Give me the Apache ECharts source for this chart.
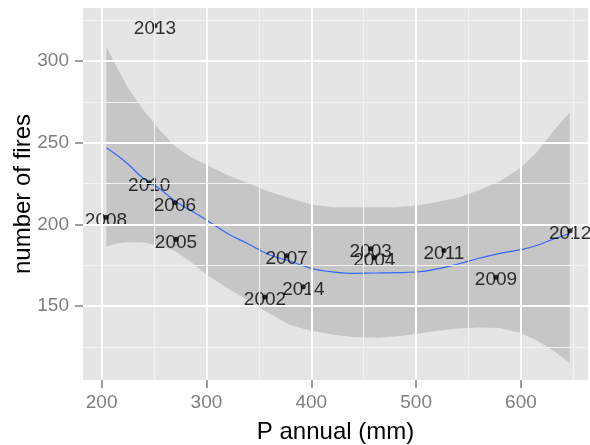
<!DOCTYPE html>
<html>
<head>
<meta charset="utf-8">
<script src="https://cdn.jsdelivr.net/npm/echarts@6/dist/echarts.min.js"></script>
<style>
  html, body { margin: 0; padding: 0; background: #ffffff; }
  #chart { width: 590px; height: 445px; }
</style>
</head>
<body>
<div id="chart"></div>
<script>
// Annual precipitation vs. number of fires, one labelled point per year
const years  = ['2002', '2003', '2004', '2005', '2006', '2007', '2008', '2009', '2010', '2011', '2012', '2013', '2014'];
const precip = [355.8, 456.7, 460.1, 270.9, 269.9, 376.5, 204.1, 576.2, 245.4, 526.6, 646.9, 250.9, 392.4];
const fires  = [155.5, 185.0, 179.6, 190.8, 213.2, 180.8, 204.3, 167.6, 225.5, 183.9, 196.0, 321.6, 161.8];

// Smoothed trend with its confidence band
const fitX      = [204.5, 215, 225, 240, 255, 270, 285, 300, 320, 340, 360, 380, 400, 420, 440, 460, 480, 500, 520, 540, 560, 580, 600, 615, 630, 646.5];
const fitY      = [246.9, 242.1, 236.9, 228.0, 221.9, 214.3, 208.5, 202.7, 194.4, 188.0, 181.4, 177.4, 173.0, 170.9, 170.0, 170.2, 170.4, 170.8, 172.7, 175.7, 179.2, 182.2, 184.5, 187.0, 190.7, 194.4];
const bandUpper = [308.5, 295.6, 283.6, 269.8, 258.0, 247.8, 241.2, 236.4, 230.2, 225.1, 220.0, 215.9, 212.1, 210.4, 210.4, 210.4, 210.4, 211.3, 213.7, 216.2, 220.8, 226.4, 234.7, 243.9, 256.3, 268.6];
const bandLower = [186.3, 188.4, 189.0, 188.8, 187.0, 183.7, 177.1, 169.2, 160.9, 153.2, 145.4, 138.4, 134.9, 132.5, 131.0, 130.6, 131.3, 132.9, 134.9, 136.2, 136.9, 136.5, 133.5, 128.9, 123.0, 115.3];

// Axis breaks
const xTicks = [200, 300, 400, 500, 600];
const xMinor = [250, 350, 450, 550, 650];
const yTicks = [150, 200, 250, 300];
const yMinor = [125, 175, 225, 275, 325];

const FONT = '"Liberation Sans", Arial, sans-serif';
const GREY = '#7F7F7F';

const chart = echarts.init(document.getElementById('chart'), null, { renderer: 'canvas' });

const minorStyle = { color: '#F2F2F2', width: 1, type: 'solid' };
const majorStyle = { color: '#FFFFFF', width: 2, type: 'solid' };
const gridLines = [].concat(
  xMinor.map(v => ({ xAxis: v, lineStyle: minorStyle })),
  yMinor.map(v => ({ yAxis: v, lineStyle: minorStyle })),
  xTicks.map(v => ({ xAxis: v, lineStyle: majorStyle })),
  yTicks.map(v => ({ yAxis: v, lineStyle: majorStyle }))
);

const bandData = fitX.map((x, i) => [x, bandLower[i], bandUpper[i]]);

chart.setOption({
  animation: false,
  backgroundColor: '#ffffff',
  grid: {
    left: 83, right: 2, top: 8, bottom: 65,
    show: true, backgroundColor: '#E5E5E5', borderWidth: 0,
    containLabel: false, outerBoundsMode: 'none'
  },
  xAxis: {
    type: 'value', min: 182.2, max: 664,
    axisLine: { show: false },
    axisTick: { show: true, length: 8, customValues: xTicks, lineStyle: { color: GREY, width: 1.5 } },
    axisLabel: { customValues: xTicks, color: GREY, fontSize: 19, fontFamily: FONT, margin: 13 },
    splitLine: { show: false },
    name: 'P annual (mm)', nameLocation: 'middle', nameGap: 40, nameMoveOverlap: false,
    nameTextStyle: { fontSize: 24, color: '#000000', fontFamily: FONT }
  },
  yAxis: {
    type: 'value', min: 104.7, max: 332.4,
    axisLine: { show: false },
    axisTick: { show: true, length: 8, customValues: yTicks, lineStyle: { color: GREY, width: 1.5 } },
    axisLabel: { customValues: yTicks, color: GREY, fontSize: 19, fontFamily: FONT, margin: 14 },
    splitLine: { show: false },
    name: 'number of fires', nameLocation: 'middle', nameGap: 48, nameRotate: 90, nameMoveOverlap: false,
    nameTextStyle: { fontSize: 24, color: '#000000', fontFamily: FONT }
  },
  series: [
    {
      // panel grid lines
      type: 'line', data: [], z: 1, silent: true,
      markLine: { silent: true, symbol: ['none', 'none'], label: { show: false }, animation: false, data: gridLines }
    },
    {
      // confidence band as one polygon
      type: 'custom', z: 2, silent: true,
      data: bandData,
      encode: { x: 0, y: [1, 2] },
      renderItem: function (params, api) {
        if (params.dataIndex !== 0) return null;
        const upper = bandData.map(d => api.coord([d[0], d[2]]));
        const lower = bandData.map(d => api.coord([d[0], d[1]])).reverse();
        return {
          type: 'polygon',
          shape: { points: upper.concat(lower) },
          style: { fill: 'rgba(153,153,153,0.4)' }
        };
      }
    },
    {
      type: 'line', z: 3, silent: true,
      data: fitX.map((x, i) => [x, fitY[i]]),
      smooth: true, showSymbol: false,
      lineStyle: { color: '#3366FF', width: 1.2 }
    },
    {
      type: 'scatter', z: 4, silent: true,
      data: precip.map((x, i) => [x, fires[i], years[i]]),
      symbol: 'circle', symbolSize: 5,
      itemStyle: { color: '#000000' },
      label: {
        show: true, position: 'inside', offset: [0, 3],
        formatter: p => p.value[2],
        color: '#000000', fontSize: 19, fontFamily: FONT
      }
    }
  ]
});
</script>
</body>
</html>
